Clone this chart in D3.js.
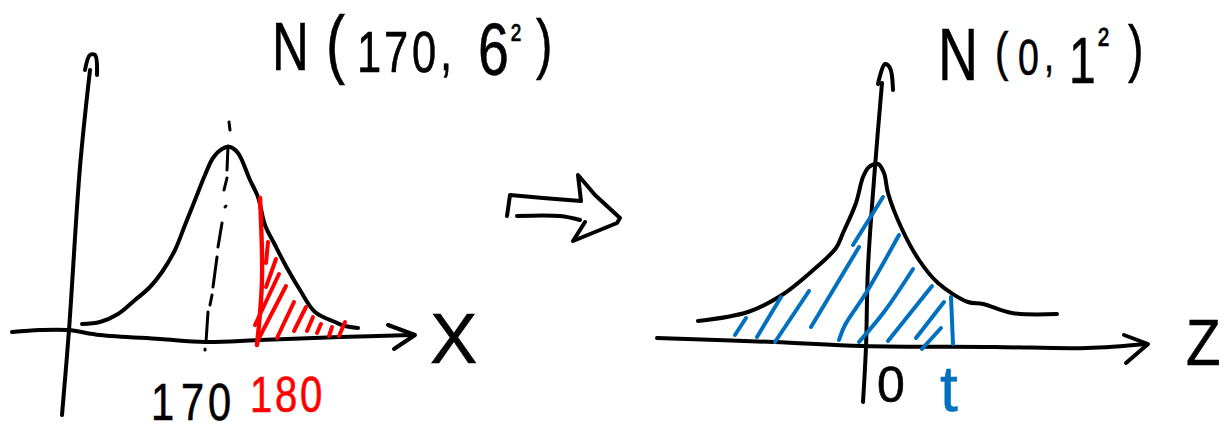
<!DOCTYPE html>
<html><head><meta charset="utf-8">
<script src="https://cdn.jsdelivr.net/npm/d3@7"></script>
<style>html,body{margin:0;padding:0;background:#fff}svg{display:block}</style>
</head><body><svg id="c" width="1224" height="430"></svg>
<script>
// ---- left panel, N(170, 6^2): x in cm, v = relative density ----
const leftCurveX = [145.4,149,152.6,156,159,161.4,164,166,168,170,171.6,173.4,175,176.6,179,180.6,182,184,186.4,189,192,196,198,200.6];
const leftCurveV = [7,8,12,19,25.5,33,44,56.5,69,81.5,90,94.5,95.5,92.5,79,70.5,56.5,46.5,35,24,13,8,6,5];
const leftYAxis = [[141.4,-38.5],[142.8,4],[145,85.5],[147,134]];
const leftYHead = [[146,134],[147,141.5],[148,141.5],[148.4,131.5]];
const leftXAxis = [[131.4,3],[137,4],[142.6,4],[149,1.5],[161,-0.5],[170,-2],[181,-1],[197,0.5],[211.4,1.5]];
const leftXHead = [[206.6,6.5],[212,1.5],[207.8,-5.5]];
const meanDashes = [
  [[174.8,108],[175,104]],[[174.6,96],[174.4,84]],[[174.4,80],[173.8,74]],[[174.2,66],[174,65.5]],
  [[173.4,57.5],[172.6,45.5]],[[172.4,40.5],[171.6,25.5]],[[171.4,21.5],[171,16.5]],[[170.6,13],[170.2,-2]],[[170,-5.5],[170,-6]]
];
const redEdge = [[181,70],[181.4,29],[180.4,-3.5]];
const redHatch = [
  [[182.6,48],[182.2,37.5]],[[184.2,39.5],[182.2,25.5]],[[184.8,32],[180,6.5]],[[186.2,26],[180.6,-1]],
  [[187.8,18],[184.4,0]],[[190.2,15.5],[187.8,3.5]],[[191.6,10.5],[190.4,3.5]],[[193.2,7],[192.4,2.5]],
  [[195.4,5.5],[194.8,1]],[[198,8],[196.8,1]]
];
// ---- right panel, N(0, 1^2): z, v = relative density ----
const rightCurveZ = [-3.4,-2.4,-1.72,-1.14,-0.64,-0.5,-0.24,-0.1,0.02,0.2,0.32,0.4,0.66,1.02,1.4,2,2.3,2.88,3.78];
const rightCurveV = [12,16.5,25,36.5,48.5,56,71,84,89,90.5,86,76,59,42.5,31,21.5,20.5,16,15.5];
const rightYAxis = [[-0.1,-28.5],[-0.04,-1],[0,39],[0.14,89],[0.28,131]];
const rightYHead = [[0.2,130.5],[0.34,140.5],[0.44,138.5],[0.5,127.5]];
const rightXAxis = [[-4.22,3.5],[-1.88,1.5],[-0.1,-0.5],[2.52,-1],[4.38,-1.5],[5.56,0.5]];
const rightXHead = [[5.12,5],[5.6,0.5],[5.16,-9]];
const blueHatch = [
  [[-2.44,13.5],[-2.66,5]],[[-1.74,24],[-2.22,4]],[[-1.18,27],[-1.86,1.5]],[[-0.18,49],[-1.14,9]],[[0.3,74],[-0.3,50]],
  [[0.62,55],[-0.04,26],[-0.46,10],[-0.58,2.5]],[[0.9,38],[0.32,16.5],[-0.18,1.5]],[[1.28,29.5],[0.4,2]],
  [[1.52,21.5],[0.96,3.5]],[[1.46,8.5],[1.08,-2]],[[1.66,24],[1.7,0.5]]
];
// ---- transform arrow between the panels ----
const arrowOuter = [[7,56],[10,35],[43,38],[81,41],[78,15],[95,35],[120,58],[117,63],[73,81],[85,62]];
const arrowInner = [[17,56],[60,56],[80,60]];
// ---- text ----
const titleLeft = "N(170, 6²)", titleRight = "N(0, 1²)";
const xLabelLeft = "X", xLabelRight = "Z";
const tickLeft = "170", tickLeftRed = "180", tickRight = "0", tickRightBlue = "t";

const svg = d3.select("#c");
const xL = d3.scaleLinear().domain([170,180]).range([205,255]);
const yL = d3.scaleLinear().domain([0,100]).range([338,138]);
const xR = d3.scaleLinear().domain([0,1]).range([868,918]);
const yR = d3.scaleLinear().domain([0,100]).range([345,145]);
const xA = d3.scaleLinear().domain([0,130]).range([500,630]);
const yA = d3.scaleLinear().domain([0,90]).range([160,250]);

function stroke(pts, sx, sy, color, w, curve){
  svg.append("path").datum(pts)
    .attr("d", d3.line().x(d=>sx(d[0])).y(d=>sy(d[1])).curve(curve||d3.curveCatmullRom.alpha(0.5)))
    .attr("fill","none").attr("stroke",color).attr("stroke-width",w)
    .attr("stroke-linecap","round").attr("stroke-linejoin","round");
}
const K="#000", RED="#ff0000", BLUE="#0070c0", W=4;
// left
stroke(leftYAxis,xL,yL,K,W); stroke(leftYHead,xL,yL,K,W);
stroke(leftXAxis,xL,yL,K,W); stroke(leftXHead,xL,yL,K,W,d3.curveLinear);
meanDashes.forEach(s=>stroke(s,xL,yL,K,3,d3.curveLinear));
stroke(d3.zip(leftCurveX,leftCurveV),xL,yL,K,W);
redHatch.forEach(s=>stroke(s,xL,yL,RED,W,d3.curveLinear));
stroke(redEdge,xL,yL,RED,W+0.4);
// right
stroke(rightYAxis,xR,yR,K,W); stroke(rightYHead,xR,yR,K,W);
stroke(rightXAxis,xR,yR,K,W); stroke(rightXHead,xR,yR,K,W,d3.curveLinear);
stroke(d3.zip(rightCurveZ,rightCurveV),xR,yR,K,W);
blueHatch.forEach(s=>stroke(s,xR,yR,BLUE,W));
// arrow
stroke(arrowOuter,xA,yA,K,W,d3.curveLinear); stroke(arrowInner,xA,yA,K,W);

// labels: one text per label, glyphs placed individually like the handwriting
function label(str, pieces, color, squeeze){
  const k = squeeze||1;
  const t = svg.append("text").attr("fill",color||K)
    .attr("stroke",color||K).attr("stroke-width",0.6)
    .attr("transform",`scale(${k},1)`)
    .attr("font-family","'Liberation Sans',sans-serif");
  let i=0;
  pieces.forEach(p=>{
    const s = Array.from(str).slice(i,i+p.x.length).join(""); i+=p.x.length;
    t.append("tspan").attr("x",p.x.map(v=>v/k).join(" ")).attr("y",p.y).attr("font-size",p.s).text(s);
  });
}
label(titleLeft,[
  {x:[272],y:70,s:68},{x:[326],y:69,s:76},{x:[357,384,412],y:72,s:58},
  {x:[440,452],y:70,s:58},{x:[478],y:75,s:74},{x:[511],y:52,s:40},{x:[536],y:66,s:66}],K,0.75);
label(titleRight,[
  {x:[938],y:80,s:74},{x:[995],y:70,s:54},{x:[1018],y:75,s:50},
  {x:[1044,1054],y:71,s:48},{x:[1069],y:83,s:64},{x:[1098],y:58,s:44},{x:[1128],y:70,s:62}],K,0.75);
label(xLabelLeft,[{x:[430],y:363,s:71}]);
label(xLabelRight,[{x:[1186],y:365,s:65}],K,0.87);
label(tickLeft,[{x:[151,181,208],y:420,s:52}],K,0.8);
label(tickLeftRed,[{x:[250,275,300],y:412,s:50}],RED,0.8);
label(tickRight,[{x:[877],y:402,s:50}]);
label(tickRightBlue,[{x:[940],y:411,s:64}],BLUE);
</script></body></html>
